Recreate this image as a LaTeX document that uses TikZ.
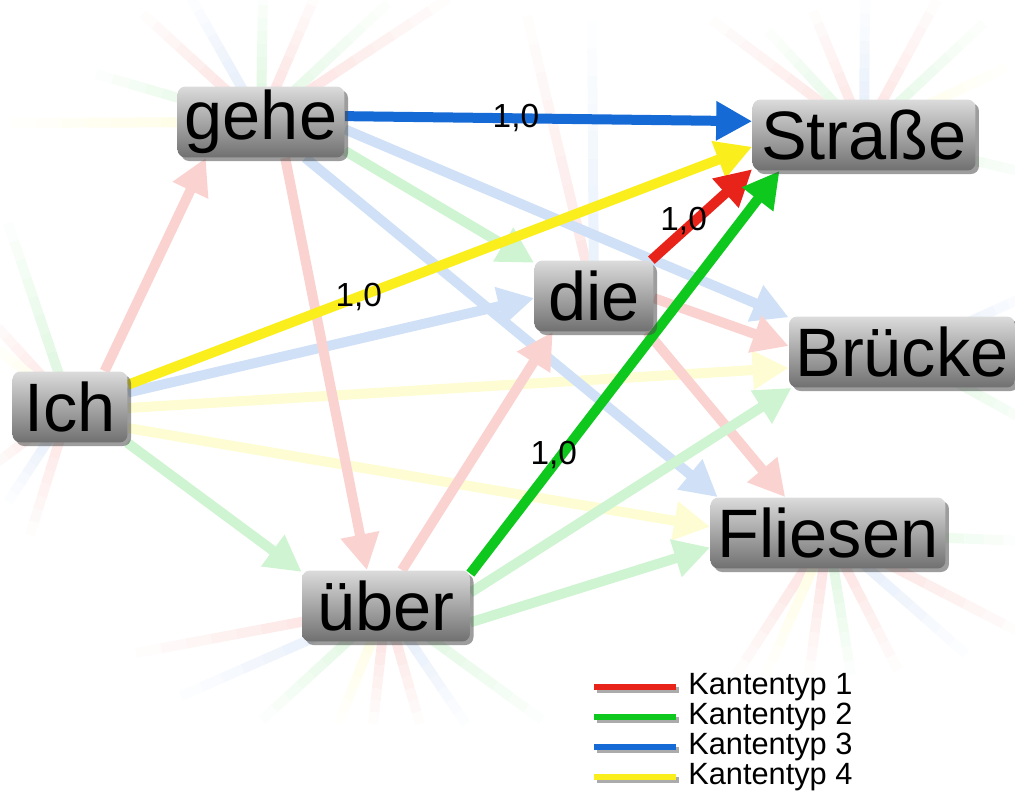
\documentclass[tikz,border=0pt]{standalone}
\usepackage{fontspec}
\setmainfont{Liberation Sans}
\usetikzlibrary{arrows.meta, shadows, backgrounds}

\definecolor{kred}{RGB}{232,36,26}
\definecolor{kgreen}{RGB}{14,200,30}
\definecolor{kblue}{RGB}{22,106,214}
\definecolor{kyellow}{RGB}{250,238,28}

\begin{document}
\begin{tikzpicture}[x=0.02cm, y=-0.02cm,
        wort/.style={rounded corners=.16cm, top color=black!14, bottom color=black!56,
            minimum height=1.42cm, inner sep=0pt, font=\fontsize{39}{44}\selectfont,
            drop shadow={shadow xshift=2pt, shadow yshift=-2pt, opacity=.55, fill=black!70}},
        edge/.style={line width=.2cm, -{Triangle[length=.72cm, width=.74cm]}},
        stub/.style={line width=.2cm},
        wlabel/.style={font=\fontsize{19}{22}\selectfont, text=black, inner sep=0pt},
        legline/.style={line width=.12cm},
        legtext/.style={font=\fontsize{17.5}{20}\selectfont, anchor=west, inner sep=0pt}
    ]

    \useasboundingbox (0,0) rectangle (1015,794);

    % 顶点
    \node[wort, minimum width=2.3cm]  (ich)     at (70,407)  {Ich};
    \node[wort, minimum width=3.34cm] (gehe)    at (261,122) {gehe};
    \node[wort, minimum width=2.38cm] (die)     at (594,296) {die};
    \node[wort, minimum width=3.36cm] (uber)    at (386,606) {über};
    \node[wort, minimum width=4.46cm] (strasse) at (864,135) {Straße};
    \node[wort, minimum width=4.52cm] (bruecke) at (902,352) {Brücke};
    \node[wort, minimum width=4.7cm]  (fliesen) at (828,533) {Fliesen};

    \begin{scope}[on background layer]
    % 淡出的边
    \foreach \n/\dx/\dy/\c/\s in {
        gehe/-118/-108/kred/15, gehe/-70/-124/kblue/13, gehe/2/-130/kgreen/15, gehe/56/-130/kred/15,
        gehe/127/-119/kgreen/13, gehe/188/-124/kred/15, gehe/-165/-48/kgreen/15, gehe/-250/1/kyellow/15,
        strasse/-152/-115/kred/13, strasse/-96/-104/kgreen/13, strasse/-51/-124/kred/13,
        strasse/1/-135/kblue/12, strasse/73/-135/kred/13, strasse/120/-112/kgreen/13,
        strasse/143/-68/kyellow/12, strasse/172/40/kgreen/14,
        die/-67/-280/kred/12, die/-2/-275/kblue/10,
        ich/-62/-184/kgreen/15, ich/-80/-88/kred/14, ich/-80/-64/kyellow/12,
        ich/-80/61/kred/14, ich/-62/95/kblue/13, ich/-40/128/kred/14,
        uber/-250/47/kred/15, uber/-205/90/kblue/13, uber/-124/114/kgreen/15, uber/-48/118/kyellow/15,
        uber/-13/118/kred/15, uber/34/118/kred/15, uber/80/118/kblue/13, uber/156/114/kgreen/15,
        fliesen/-92/142/kred/15, fliesen/-62/142/kyellow/15, fliesen/-19/142/kred/15,
        fliesen/23/142/kgreen/15, fliesen/70/137/kred/15, fliesen/138/121/kblue/13,
        fliesen/195/101/kred/15, fliesen/195/8/kgreen/15,
        bruecke/133/-60/kblue/13, bruecke/133/74/kgreen/15}
    {
        \foreach \k in {0,...,9} {
            \pgfmathsetmacro\p{\s*(1-\k/10)}
            \pgfmathsetmacro\xa{\k*\dx/10}
            \pgfmathsetmacro\ya{\k*\dy/10}
            \pgfmathsetmacro\xb{(\k+1)*\dx/10}
            \pgfmathsetmacro\yb{(\k+1)*\dy/10}
            \draw[stub, color=\c!\p, shift={(\n)}] (\xa,\ya) -- (\xb,\yb);
        }
    }

    % 淡色有向边
    \draw[edge, kred!20]    (ich.46)   -- (gehe.213);
    \draw[edge, kblue!20]   (ich.14)   -- (die.182);
    \draw[edge, kyellow!20] (ich.359)  -- (bruecke.188);
    \draw[edge, kyellow!20] (ich.340)  -- (fliesen.177);
    \draw[edge, kgreen!20]  (ich.328)  -- (uber.158);
    \draw[edge, kgreen!20]  (gehe.341) -- (die.151);
    \draw[edge, kblue!20]   (gehe.355) -- (bruecke.163);
    \draw[edge, kblue!20]   (gehe.321) -- (fliesen.162);
    \draw[edge, kred!20]    (gehe.304) -- (uber.118);
    \draw[edge, kred!20]    (die.358)  -- (bruecke.177);
    \draw[edge, kred!20]    (die.326)  -- (fliesen.140);
    \draw[edge, kred!20]    (uber.66)  -- (die.221);
    \draw[edge, kgreen!20]  (uber.9)   -- (bruecke.198);
    \draw[edge, kgreen!20]  (uber.349) -- (fliesen.187);

    % 高亮有向边
    \draw[edge, kyellow] (ich.21) -- node[wlabel, pos=.37] {1,0} (strasse.186);
    \draw[edge, kblue]   (gehe.4) -- node[wlabel, pos=.42] {1,0} (strasse.173);
    \draw[edge, kred]    (die.32) -- node[wlabel, pos=.32, yshift=.2cm] {1,0} (strasse.197);
    \draw[edge, kgreen]  (uber.21) -- node[wlabel, pos=.27, yshift=.2cm] {1,0} (strasse.203);
    \end{scope}

    % 图例
    \foreach \c [count=\i] in {kred, kgreen, kblue, kyellow} {
        \draw[legline, black!55, opacity=.6] (597,660+30*\i) -- (679,660+30*\i);
        \draw[legline, \c] (594,657+30*\i) -- (676,657+30*\i);
        \node[legtext] (typ\i) at (688,657+30*\i) {Kantentyp \i};
    }

\end{tikzpicture}
\end{document}
